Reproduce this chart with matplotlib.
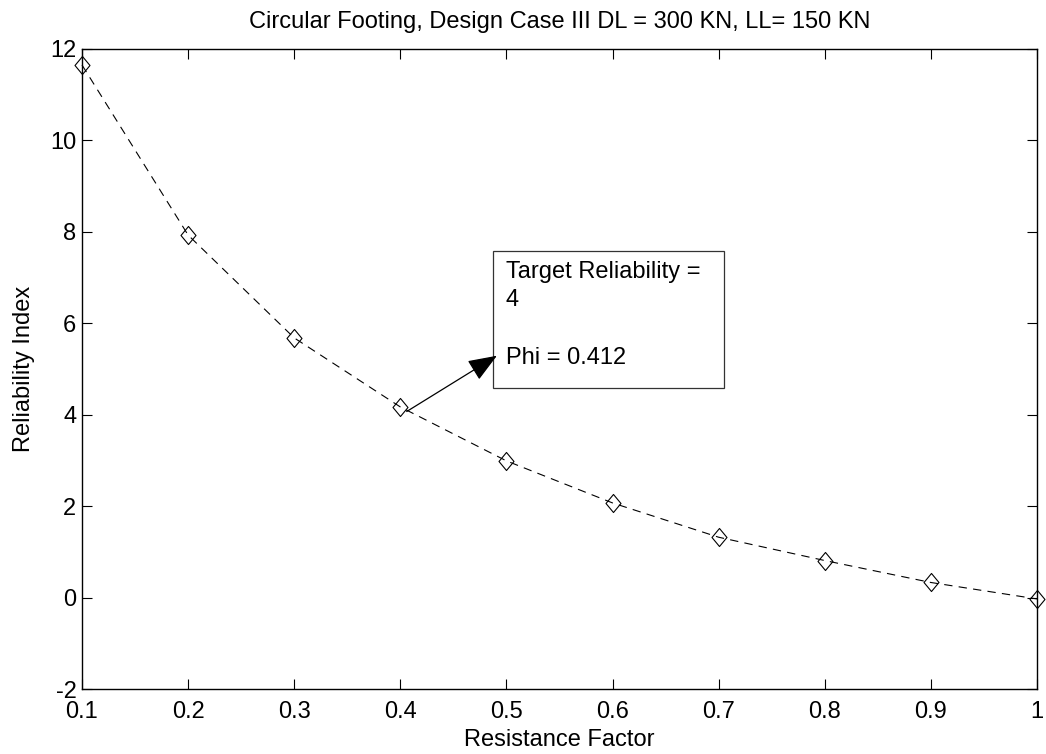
import matplotlib
matplotlib.use("Agg")
import matplotlib.pyplot as plt
from matplotlib.path import Path
from matplotlib.patches import Rectangle

plt.rcParams['font.family'] = ['Liberation Sans', 'DejaVu Sans']
plt.rcParams['lines.scale_dashes'] = False
plt.rcParams['axes.unicode_minus'] = False

resistance_factor = [0.1, 0.2, 0.3, 0.4, 0.5, 0.6, 0.7, 0.8, 0.9, 1.0]
reliability_index = [11.65, 7.93, 5.68, 4.17, 2.99, 2.07, 1.32, 0.81, 0.33, -0.03]
x_ticks = [0.1, 0.2, 0.3, 0.4, 0.5, 0.6, 0.7, 0.8, 0.9, 1.0]
x_tick_labels = ['0.1', '0.2', '0.3', '0.4', '0.5', '0.6', '0.7', '0.8', '0.9', '1']
y_ticks = [-2, 0, 2, 4, 6, 8, 10, 12]
title = 'Circular Footing, Design Case III DL = 300 KN, LL= 150 KN'
annotation_text = 'Target Reliability =\n4\n\nPhi = 0.412'

fs = 17

fig = plt.figure(figsize=(10.46, 7.54), dpi=100)
ax = fig.add_axes([82/1046, 65/754, (1037-82)/1046, (689-49)/754])

diamond = Path([(0, 1), (0.83, 0), (0, -1), (-0.83, 0), (0, 1)],
               [Path.MOVETO, Path.LINETO, Path.LINETO, Path.LINETO, Path.CLOSEPOLY])
ax.plot(resistance_factor, reliability_index, color='black', lw=0.8,
        dashes=(6, 4.5), marker=diamond, markersize=13, markerfacecolor='none',
        markeredgecolor='black', markeredgewidth=0.8, clip_on=False, zorder=3)

ax.set_xlim(0.1, 1.0)
ax.set_ylim(-2, 12)
ax.set_xticks(x_ticks)
ax.set_xticklabels(x_tick_labels)
ax.set_yticks(y_ticks)
ax.tick_params(direction='in', length=7, width=0.8, top=True, right=True,
               labelsize=fs, colors='black')
ax.tick_params(axis='x', pad=9)
ax.tick_params(axis='y', pad=4)
for s in ax.spines.values():
    s.set_linewidth(1.0)

ax.set_xlabel('Resistance Factor', fontsize=fs, labelpad=4)
ax.set_ylabel('Reliability Index', fontsize=fs, labelpad=11)
ax.set_title(title, fontsize=fs, pad=15)

# annotation box
ax.add_patch(Rectangle((0.487, 4.59), 0.705 - 0.487, 3.0, facecolor='white',
                       edgecolor='#333333', lw=0.9, zorder=4))
ax.text(0.4995, 7.37, annotation_text, fontsize=fs, va='top', ha='left',
        linespacing=1.39, zorder=5)
ax.annotate('', xy=(0.491, 5.29), xytext=(0.406, 4.07),
            arrowprops=dict(arrowstyle='-|>,head_length=0.9,head_width=0.35',
                            mutation_scale=20, lw=0.9, color='black',
                            shrinkA=0, shrinkB=0), zorder=5)

fig.savefig('out.png', dpi=100)
